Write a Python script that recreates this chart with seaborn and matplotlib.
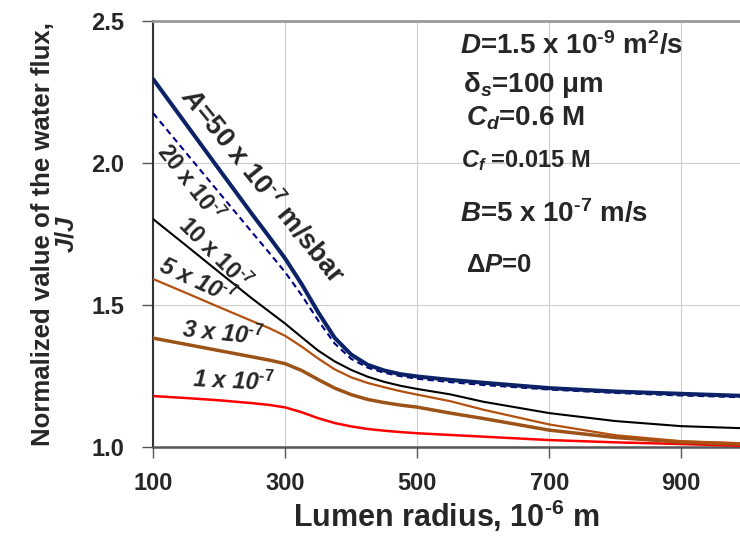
import numpy as np
import pandas as pd
import matplotlib
matplotlib.use("Agg")
import matplotlib.pyplot as plt
import seaborn as sns

# ---- data ----
radius = [100, 150, 200, 250, 275, 300, 325, 350, 375, 400, 425, 450, 475, 500, 550, 600, 700, 800, 900, 990]

flux_A50 = [2.296, 2.137, 1.978, 1.820, 1.743, 1.664, 1.574, 1.475, 1.385, 1.326, 1.290, 1.270, 1.257, 1.249, 1.237, 1.227, 1.208, 1.196, 1.188, 1.181]
flux_A20 = [2.176, 2.036, 1.896, 1.756, 1.687, 1.616, 1.535, 1.446, 1.365, 1.311, 1.280, 1.262, 1.250, 1.241, 1.229, 1.219, 1.203, 1.191, 1.182, 1.176]
flux_A10 = [1.803, 1.710, 1.616, 1.523, 1.479, 1.435, 1.387, 1.340, 1.302, 1.272, 1.248, 1.230, 1.216, 1.205, 1.186, 1.160, 1.120, 1.092, 1.074, 1.067]
flux_A5 = [1.592, 1.543, 1.493, 1.444, 1.420, 1.392, 1.354, 1.312, 1.274, 1.246, 1.226, 1.211, 1.197, 1.185, 1.162, 1.132, 1.080, 1.042, 1.021, 1.014]
flux_A3 = [1.384, 1.362, 1.340, 1.318, 1.307, 1.294, 1.270, 1.238, 1.208, 1.185, 1.168, 1.157, 1.148, 1.141, 1.120, 1.101, 1.060, 1.034, 1.018, 1.011]
flux_A1 = [1.180, 1.173, 1.165, 1.155, 1.149, 1.140, 1.123, 1.102, 1.085, 1.073, 1.064, 1.058, 1.053, 1.049, 1.043, 1.037, 1.025, 1.017, 1.011, 1.005]

series_names = ["A1", "A3", "A5", "A10", "A20", "A50"]
series_values = [flux_A1, flux_A3, flux_A5, flux_A10, flux_A20, flux_A50]

x_ticks = [100, 300, 500, 700, 900]
y_ticks = [1.0, 1.5, 2.0, 2.5]

df = pd.DataFrame({
    "radius": radius * len(series_names),
    "flux": sum(series_values, []),
    "A": sum([[n] * len(radius) for n in series_names], []),
})

styles = {
    "A1":  dict(color="#ff0000", lw=1.8, ls="-"),
    "A3":  dict(color="#9c5318", lw=2.5, ls="-"),
    "A5":  dict(color="#b3500f", lw=1.6, ls="-"),
    "A10": dict(color="#000000", lw=1.5, ls="-"),
    "A20": dict(color="#000080", lw=1.5, ls=(0, (3, 2))),
    "A50": dict(color="#0b2366", lw=2.9, ls="-"),
}

sns.set_style("ticks")
plt.rcParams["font.family"] = ["Liberation Sans", "DejaVu Sans"]
plt.rcParams["font.weight"] = "bold"
plt.rcParams["mathtext.fontset"] = "custom"
plt.rcParams["mathtext.rm"] = "Liberation Sans:bold"
plt.rcParams["mathtext.bf"] = "Liberation Sans:bold"
plt.rcParams["mathtext.it"] = "Liberation Sans:bold:italic"
plt.rcParams["mathtext.default"] = "rm"

fig = plt.figure(figsize=(7.4, 5.44), dpi=100)
ax = fig.add_axes([0.207, 0.178, 0.793, 0.783])

for name in series_names:
    st = styles[name]
    sub = df[df["A"] == name]
    sns.lineplot(data=sub, x="radius", y="flux", ax=ax, color=st["color"],
                 linewidth=st["lw"], linestyle=st["ls"], legend=False, zorder=3)

ax.set_xlim(100, 989)
ax.set_ylim(1.0, 2.5)
ax.tick_params(axis="both", direction="out", length=8, width=1, color="#555555")
ax.tick_params(axis="x", pad=10)
ax.tick_params(axis="y", pad=13)
ax.set_xticks(x_ticks)
ax.set_yticks(y_ticks)
ax.set_xticklabels([str(v) for v in x_ticks], fontsize=17, fontweight="bold")
ax.set_yticklabels([f"{v:.1f}" for v in y_ticks], fontsize=17, fontweight="bold")

ax.grid(True, color="#cccccc", lw=0.8, zorder=0)
ax.spines["right"].set_visible(False)
ax.spines["top"].set_color("#999999")
ax.spines["top"].set_linewidth(2)
ax.spines["left"].set_color("#333333")
ax.spines["left"].set_linewidth(1.5)
ax.spines["bottom"].set_color("#555555")
ax.spines["bottom"].set_linewidth(1.8)

SUP = "$^{\\text{-}%s}$"
SUPI = "$^{\\mathit{\\text{-}%s}}$"

ax.set_xlabel("Lumen radius, 10" + SUP % "6" + " m", fontsize=22, fontweight="bold", labelpad=2)
ax.set_ylabel("Normalized value of the water flux,\n$\\mathit{J/J}$", fontsize=18.5,
              fontweight="bold", labelpad=9, linespacing=1.0)

# curve labels
ax.text(265, 1.92, "$\\mathit{A}$=50 x 10" + SUP % "7" + " m/sbar", fontsize=19.5, fontweight="bold",
        rotation=-51, ha="center", va="center", rotation_mode="anchor")
ax.text(155, 1.93, "20 x 10" + SUP % "7", fontsize=16.5, fontweight="bold",
        rotation=-52, ha="center", va="center", rotation_mode="anchor")
ax.text(193, 1.683, "10 x 10" + SUP % "7", fontsize=16.5, fontweight="bold",
        rotation=-45, ha="center", va="center", rotation_mode="anchor")
ax.text(167, 1.585, "5 x 10" + SUPI % "7", fontsize=17, fontweight="bold", style="italic",
        rotation=-25, ha="center", va="center", rotation_mode="anchor")
ax.text(205, 1.40, "3 x 10" + SUPI % "7", fontsize=17, fontweight="bold", style="italic",
        rotation=-6, ha="center", va="center", rotation_mode="anchor")
ax.text(222, 1.232, "1 x 10" + SUPI % "7", fontsize=17, fontweight="bold", style="italic",
        rotation=-3, ha="center", va="center", rotation_mode="anchor")

# parameter annotations
ax.text(565, 2.415, "$\\mathit{D}$=1.5 x 10" + SUP % "9" + " m$^{2}$/s", fontsize=20, fontweight="bold", va="center")
ax.text(570, 2.275, "δ$_{\\mathit{s}}$=100 μm", fontsize=20, fontweight="bold", va="center")
ax.text(574, 2.158, "$\\mathit{C}_{\\mathit{d}}$=0.6 M", fontsize=20, fontweight="bold", va="center")
ax.text(567, 2.01, "$\\mathit{C}_{\\mathit{f}}$ =0.015 M", fontsize=17, fontweight="bold", va="center")
ax.text(565, 1.824, "$\\mathit{B}$=5 x 10" + SUP % "7" + " m/s", fontsize=20, fontweight="bold", va="center")
ax.text(574, 1.641, "Δ$\\mathit{P}$=0", fontsize=18.5, fontweight="bold", va="center")

fig.savefig("out.png", dpi=100)
